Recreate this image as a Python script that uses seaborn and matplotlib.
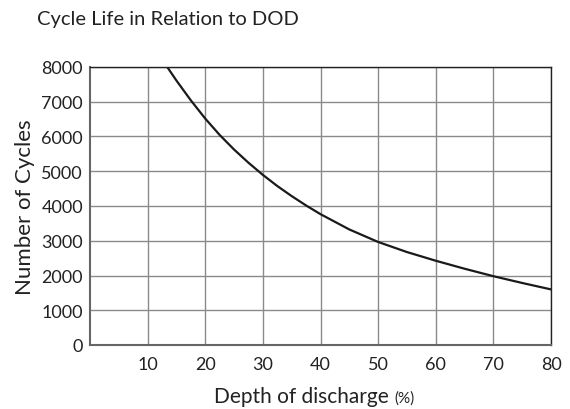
import numpy as np
import pandas as pd
from matplotlib import pyplot as plt
import seaborn as sns

# values
dod = [13.4, 15, 17.5, 20, 22.5, 25, 27.5, 30, 32.5, 35, 37.5, 40, 45, 50, 55, 60, 65, 70, 75, 80]
cycles = [8000, 7610, 7040, 6515, 6045, 5625, 5245, 4895, 4575, 4285, 4015, 3765, 3325,
          2965, 2675, 2425, 2195, 1980, 1785, 1600]

x_ticks = [10, 20, 30, 40, 50, 60, 70, 80]
y_ticks = [0, 1000, 2000, 3000, 4000, 5000, 6000, 7000, 8000]

sns.set_style('white')
plt.rcParams['font.family'] = ['Lato', 'DejaVu Sans']

df = pd.DataFrame({'dod': dod, 'cycles': cycles})

fig = plt.figure(figsize=(5.7, 4.1), dpi=100)
ax = fig.add_axes([90 / 570, 1 - 346 / 410, (551 - 90) / 570, (346 - 68) / 410])

ax.set_xlim(0, 80)
ax.set_ylim(0, 8000)
ax.set_xticks(x_ticks)
ax.set_yticks(y_ticks)
ax.grid(True, color='#8a8a8a', linewidth=1.0)
ax.set_axisbelow(True)

sns.lineplot(ax=ax, data=df, x='dod', y='cycles', color='#1a1a1a', linewidth=1.6)
ax.lines[0].set_solid_joinstyle('round')

ax.tick_params(axis='both', length=0, labelsize=13, colors='#222222', pad=5)
ax.tick_params(axis='x', pad=8)

for side in ['top', 'right']:
    ax.spines[side].set_color('#222222')
    ax.spines[side].set_linewidth(1.0)
for side in ['left', 'bottom']:
    ax.spines[side].set_color('#666666')
    ax.spines[side].set_linewidth(1.5)

ax.set_xlabel('')
ax.set_ylabel('')
fig.text(25 / 570, 1 - 207 / 410, 'Number of Cycles', rotation=90, ha='center', va='center',
         fontsize=16, color='#222222')
fig.text(37 / 570, 1 - 20 / 410, 'Cycle Life in Relation to DOD', ha='left', va='center',
         fontsize=14.5, color='#222222')

# x label with a smaller "(%)"
renderer = fig.canvas.get_renderer()
t1 = fig.text(0, 1 - 403 / 410, 'Depth of discharge ', ha='left', va='baseline',
              fontsize=15, color='#222222')
t2 = fig.text(0, 1 - 403 / 410, '(%)', ha='left', va='baseline',
              fontsize=11, color='#222222')
w1 = t1.get_window_extent(renderer).width
w2 = t2.get_window_extent(renderer).width
start = 314 - (w1 + w2) / 2
t1.set_x(start / 570)
t2.set_x((start + w1) / 570)

plt.savefig('out.png', dpi=100)
